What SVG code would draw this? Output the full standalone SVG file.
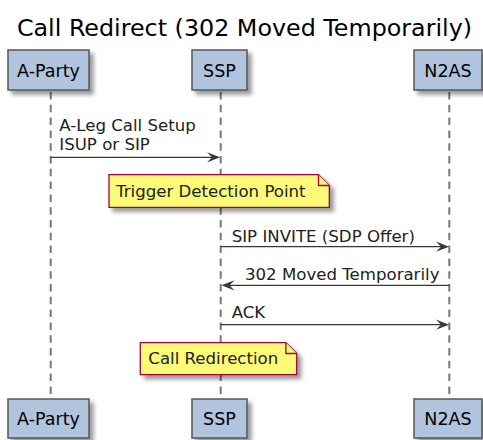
<svg xmlns="http://www.w3.org/2000/svg" width="483" height="440" viewBox="0 0 483 440">
<style>
text{font-family:"DejaVu Sans","Liberation Sans",sans-serif;fill:#000}
.title{font-size:23.8px}
.part{fill:#B0C4DE;stroke:#555;stroke-width:1.5}
.ptxt{font-size:17.5px;text-anchor:middle}
.life{stroke:#777;stroke-width:2;stroke-dasharray:7.5,5.3;fill:none}
.msg{stroke:#383838;stroke-width:1.3;fill:none}
.mtxt{font-size:16.6px;fill:#222}
.note{fill:#FBFB77;stroke:#A80036;stroke-width:1.3}
.ntxt{font-size:16.6px;fill:#222}
.ah{fill:#383838}
</style>
<defs>
<filter id="sh" x="-20%" y="-20%" width="150%" height="150%">
<feGaussianBlur in="SourceAlpha" stdDeviation="2"/>
<feOffset dx="4" dy="4" result="b"/>
<feColorMatrix in="b" type="matrix" values="0 0 0 0 0 0 0 0 0 0 0 0 0 0 0 0 0 0 0.4 0"/>
<feMerge><feMergeNode/><feMergeNode in="SourceGraphic"/></feMerge>
</filter>
</defs>
<rect width="483" height="440" fill="#fff"/>
<text class="title" x="244.5" y="36" text-anchor="middle">Call Redirect (302 Moved Temporarily)</text>
<g id="lifelines">
<line class="life" x1="50.7" y1="92" x2="50.7" y2="399"/>
<line class="life" x1="220.7" y1="92" x2="220.7" y2="399"/>
<line class="life" x1="449.3" y1="92" x2="449.3" y2="399"/>
</g>
<g id="A-Party">
<rect class="part" x="8" y="50" width="81" height="40" filter="url(#sh)"/>
<text class="ptxt" x="48.5" y="76.5">A-Party</text>
<rect class="part" x="8" y="399" width="81" height="39" filter="url(#sh)"/>
<text class="ptxt" x="48.5" y="425">A-Party</text>
</g>
<g id="SSP">
<rect class="part" x="192" y="50" width="55" height="40" filter="url(#sh)"/>
<text class="ptxt" x="219.5" y="76.5">SSP</text>
<rect class="part" x="192" y="399" width="55" height="39" filter="url(#sh)"/>
<text class="ptxt" x="219.5" y="425">SSP</text>
</g>
<g id="N2AS">
<rect class="part" x="414" y="50" width="68" height="40" filter="url(#sh)"/>
<text class="ptxt" x="448" y="76.5">N2AS</text>
<rect class="part" x="414" y="399" width="68" height="39" filter="url(#sh)"/>
<text class="ptxt" x="448" y="425">N2AS</text>
</g>
<g id="note1">
<path class="note" d="M109,174.7 H318.5 L329.3,185.5 V207.3 H109 Z" filter="url(#sh)"/>
<path class="note" d="M318.5,174.7 V185.5 H329.3" fill="none"/>
<text class="ntxt" x="116" y="197.3">Trigger Detection Point</text>
</g>
<g id="note2">
<path class="note" d="M140.3,342.7 H285.9 L296.7,353.5 V374.7 H140.3 Z" filter="url(#sh)"/>
<path class="note" d="M285.9,342.7 V353.5 H296.7" fill="none"/>
<text class="ntxt" x="148.3" y="364">Call Redirection</text>
</g>
<g id="connectors">
<line class="msg" x1="50.7" y1="157.3" x2="218" y2="157.3"/>
<polygon class="ah" points="220,157.3 207,152.2 212,157.3 207,162.4"/>
<text class="mtxt" x="59.3" y="130.5">A-Leg Call Setup</text>
<text class="mtxt" x="59.3" y="150">ISUP or SIP</text>

<line class="msg" x1="220.7" y1="246.7" x2="447" y2="246.7"/>
<polygon class="ah" points="449,246.7 436,241.6 441,246.7 436,251.8"/>
<text class="mtxt" x="231.7" y="241.7">SIP INVITE (SDP Offer)</text>

<line class="msg" x1="449.3" y1="285.3" x2="223" y2="285.3"/>
<polygon class="ah" points="221.5,285.3 234.5,280.2 229.5,285.3 234.5,290.4"/>
<text class="mtxt" x="245" y="280">302 Moved Temporarily</text>

<line class="msg" x1="220.7" y1="324.7" x2="447" y2="324.7"/>
<polygon class="ah" points="449,324.7 436,319.6 441,324.7 436,329.8"/>
<text class="mtxt" x="231.7" y="318.3">ACK</text>
</g>
</svg>
